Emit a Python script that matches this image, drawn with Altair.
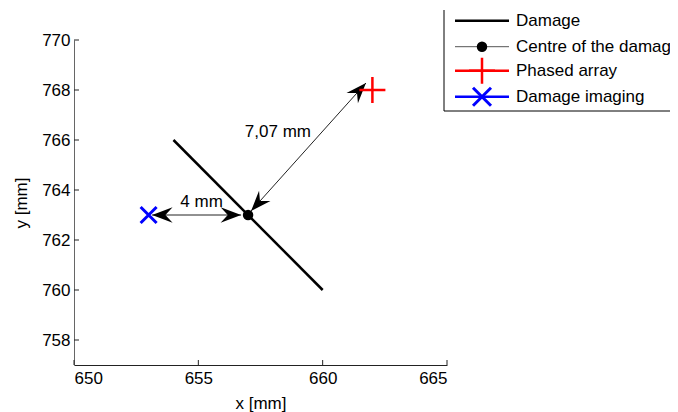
import altair as alt
import pandas as pd

FONT = "Liberation Sans"
FS = 17

# ---- data ----
damage_x = [654, 660]
damage_y = [766, 760]
centre_x = [657]
centre_y = [763]
phased_x = [662]
phased_y = [768]
imaging_x = [653]
imaging_y = [763]

arrow_x1 = [653.14, 657.12]
arrow_y1 = [763.0, 763.16]
arrow_x2 = [656.72, 661.74]
arrow_y2 = [763.0, 768.28]

head_x = [653.14, 656.72, 657.12, 661.74]
head_y = [763.0, 763.0, 763.16, 768.28]
head_angle = [180, 0, 132, 312]

label_text = ["4 mm", "7,07 mm"]
label_x = [655.13, 658.2]
label_y = [763.32, 766.12]

x_ticks = [650, 655, 660, 665]
y_ticks = [758, 760, 762, 764, 766, 768, 770]

legend_labels = ["Damage", "Centre of the damage", "Phased array", "Damage imaging"]

W, H = 373, 325

xs = alt.Scale(domain=[650, 665], nice=False, zero=False)
ys = alt.Scale(domain=[757, 770], nice=False, zero=False)

xaxis = alt.Axis(values=x_ticks, grid=False, ticks=False, tickSize=0, domainColor="#222",
                 domainWidth=1, labelFont=FONT, labelFontSize=FS, labelColor="black",
                 labelPadding=5, title="x [mm]", titleFont=FONT, titleFontSize=FS,
                 titleFontWeight="normal", titleColor="black", titleY=30,
                 titleBaseline="top")
yaxis = alt.Axis(values=y_ticks, grid=False, ticks=False, tickSize=0, domainColor="#666",
                 domainWidth=1, labelFont=FONT, labelFontSize=FS, labelColor="black",
                 labelPadding=4, title="y [mm]", titleFont=FONT, titleFontSize=FS,
                 titleFontWeight="normal", titleColor="black", titleX=-53, titleY=H / 2,
                 titleBaseline="middle", titleAngle=270)

X = lambda f="x": alt.X(f"{f}:Q", scale=xs, axis=xaxis)
Y = lambda f="y": alt.Y(f"{f}:Q", scale=ys, axis=yaxis)

damage = alt.Chart(pd.DataFrame({"x": damage_x, "y": damage_y})).mark_line(
    color="black", strokeWidth=2.5).encode(x=X(), y=Y())

arrows = alt.Chart(pd.DataFrame({"x": arrow_x1, "y": arrow_y1, "x2": arrow_x2, "y2": arrow_y2})
                   ).mark_rule(color="#222", strokeWidth=1).encode(
    x=X(), y=Y(), x2="x2:Q", y2="y2:Q")

ARROW = "M0,0L-2,-0.75L-1.3,0L-2,0.75Z"
heads = alt.Chart(pd.DataFrame({"x": head_x, "y": head_y, "a": head_angle})).mark_point(
    shape=ARROW, filled=True, color="black", opacity=1, size=420, strokeWidth=0).encode(
    x=X(), y=Y(), angle=alt.Angle("a:Q", scale=None))

centre = alt.Chart(pd.DataFrame({"x": centre_x, "y": centre_y})).mark_point(
    shape="circle", filled=True, color="black", opacity=1, size=110).encode(x=X(), y=Y())

PLUS = "M-1,0L1,0M0,-1L0,1"
XSHAPE = "M-1,-1L1,1M-1,1L1,-1"
phased = alt.Chart(pd.DataFrame({"x": phased_x, "y": phased_y})).mark_point(
    shape=PLUS, filled=False, color="red", opacity=1, size=676, strokeWidth=2.5).encode(
    x=X(), y=Y())
imaging = alt.Chart(pd.DataFrame({"x": imaging_x, "y": imaging_y})).mark_point(
    shape=XSHAPE, filled=False, color="blue", opacity=1, size=256, strokeWidth=3).encode(
    x=X(), y=Y())

labels = alt.Chart(pd.DataFrame({"x": label_x, "y": label_y, "t": label_text})).mark_text(
    font=FONT, fontSize=FS, color="black", baseline="alphabetic", align="center").encode(
    x=X(), y=Y(), text="t:N")

xtick_rules = alt.Chart(pd.DataFrame({"x": x_ticks})).mark_rule(color="#222").encode(
    x=X(), y=alt.value(H), y2=alt.value(H - 5))
ytick_rules = alt.Chart(pd.DataFrame({"y": y_ticks})).mark_rule(color="#222").encode(
    y=Y(), x=alt.value(0), x2=alt.value(5))

# ---- legend (drawn manually, outside the plot area) ----
one = pd.DataFrame({"d": [0]})
leg_layers = []
leg_layers.append(alt.Chart(one).mark_rule(color="black", strokeWidth=1).encode(
    x=alt.value(370), y=alt.value(-30), y2=alt.value(71)))
leg_layers.append(alt.Chart(one).mark_rule(color="black", strokeWidth=1).encode(
    x=alt.value(370), x2=alt.value(720), y=alt.value(71)))

rows = [-19.3, 6.7, 30.7, 56.7]
styles = [
    ("black", 2.5, None),
    ("#555", 1, "centre"),
    ("red", 2.5, "plus"),
    ("blue", 2.5, "x"),
]
for lab, ry, (col, sw, mk) in zip(legend_labels, rows, styles):
    leg_layers.append(alt.Chart(one).mark_rule(color=col, strokeWidth=sw).encode(
        x=alt.value(381), x2=alt.value(435), y=alt.value(ry)))
    if mk == "centre":
        leg_layers.append(alt.Chart(one).mark_point(
            shape="circle", filled=True, color="black", opacity=1, size=110).encode(
            x=alt.value(408), y=alt.value(ry)))
    elif mk == "plus":
        leg_layers.append(alt.Chart(one).mark_point(
            shape=PLUS, filled=False, color="red", opacity=1, size=676, strokeWidth=2.5).encode(
            x=alt.value(408), y=alt.value(ry)))
    elif mk == "x":
        leg_layers.append(alt.Chart(one).mark_point(
            shape=XSHAPE, filled=False, color="blue", opacity=1, size=324, strokeWidth=3).encode(
            x=alt.value(408), y=alt.value(ry)))
    leg_layers.append(alt.Chart(one).mark_text(
        text=lab, font=FONT, fontSize=FS, color="black", align="left", baseline="middle").encode(
        x=alt.value(442), y=alt.value(ry)))

chart = alt.layer(
    damage, arrows, heads, centre, phased, imaging, labels, xtick_rules, ytick_rules,
    *leg_layers
).properties(
    width=W, height=H,
    background="white",
    autosize=alt.AutoSizeParams(type="none"),
    padding={"left": 66, "top": 32, "right": 223, "bottom": 47},
).configure_view(strokeWidth=0, strokeOpacity=0)

chart.save("out.html", embed_options={"renderer": "svg", "actions": False})
